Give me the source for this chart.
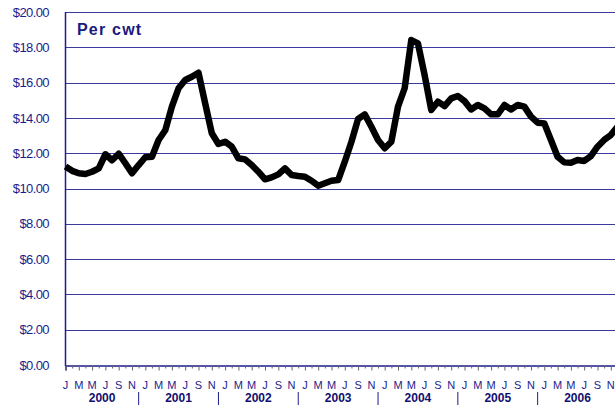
<!DOCTYPE html>
<html>
<head>
<meta charset="utf-8">
<script src="https://cdn.jsdelivr.net/npm/d3@7"></script>
<style>
  body { margin: 0; background: #fff; }
  svg { display: block; font-family: 'Liberation Sans', Arial, sans-serif; }
</style>
</head>
<body>
<div id="chart"></div>
<script>
// Data (monthly price, $ per cwt, Jan 2000 - Dec 2006)
var years = ['2000', '2001', '2002', '2003', '2004', '2005', '2006']
var monthLetters = ['J', 'F', 'M', 'A', 'M', 'J', 'J', 'A', 'S', 'O', 'N', 'D']
var prices = [
  11.24, 11.0, 10.86, 10.82, 10.95, 11.14, 11.94, 11.6, 11.97, 11.43, 10.86, 11.33,
  11.77, 11.8, 12.75, 13.3, 14.64, 15.68, 16.15, 16.33, 16.56, 14.83, 13.13, 12.52,
  12.65, 12.37, 11.71, 11.65, 11.33, 10.95, 10.52, 10.63, 10.8, 11.14, 10.76, 10.71,
  10.67, 10.44, 10.16, 10.3, 10.44, 10.48, 11.52, 12.65, 13.94, 14.2, 13.5, 12.75,
  12.28, 12.65, 14.64, 15.68, 18.41, 18.22, 16.43, 14.45, 14.92, 14.67, 15.11, 15.24,
  14.95, 14.48, 14.73, 14.54, 14.2, 14.2, 14.73, 14.48, 14.73, 14.64, 14.07, 13.73,
  13.69, 12.75, 11.8, 11.48, 11.46, 11.61, 11.56, 11.84, 12.37, 12.75, 13.03, 13.5
]
var yTicks = [0, 2, 4, 6, 8, 10, 12, 14, 16, 18, 20]

// Build the month categories
var months = []
years.forEach(function(y) {
  monthLetters.forEach(function(m, i) {
    months.push({ key: y + '-' + (i + 1), year: y, month: i, letter: m })
  })
})
var datapoints = months.map(function(d, i) {
  return { key: d.key, year: d.year, month: d.month, letter: d.letter, price: prices[i] }
})

var width = 615
var height = 405
var navy = '#1c1c8c'

var svg = d3
  .select('#chart')
  .append('svg')
  .attr('width', width)
  .attr('height', height)

// Scales
var xPositionScale = d3
  .scalePoint()
  .domain(months.map(d => d.key))
  .range([65.5, 65.5 + 6.65 * 83])

var yPositionScale = d3
  .scaleLinear()
  .domain([0, 20])
  .range([365, 12])

// Gridlines
svg
  .selectAll('.grid')
  .data(yTicks.filter(d => d > 0))
  .enter()
  .append('line')
  .attr('class', 'grid')
  .attr('x1', 65)
  .attr('x2', width)
  .attr('y1', d => Math.round(yPositionScale(d)) + 0.5)
  .attr('y2', d => Math.round(yPositionScale(d)) + 0.5)
  .attr('stroke', '#3a3a9e')
  .attr('stroke-width', 1.2)

// Y axis (labels only, line drawn separately)
var yAxis = d3
  .axisLeft(yPositionScale)
  .tickValues(yTicks)
  .tickSize(0)
  .tickPadding(0)
  .tickFormat(d => '$' + d3.format('.2f')(d))

svg
  .append('g')
  .attr('class', 'axis y-axis')
  .attr('transform', 'translate(49,0)')
  .call(yAxis)
  .call(g => g.select('.domain').remove())
  .selectAll('text')
  .attr('fill', navy)
  .attr('font-size', 13)
  .attr('letter-spacing', -0.6)
  .attr('font-family', "'Liberation Sans', Arial, sans-serif")

// Left axis line
svg
  .append('line')
  .attr('x1', 65.5)
  .attr('x2', 65.5)
  .attr('y1', 12)
  .attr('y2', 366)
  .attr('stroke', navy)
  .attr('stroke-width', 1.5)

// X axis with monthly ticks
var xAxis = d3
  .axisBottom(xPositionScale)
  .tickSizeOuter(0)
  .tickSize(5)
  .tickFormat('')

var xAxisG = svg
  .append('g')
  .attr('class', 'axis x-axis')
  .attr('transform', 'translate(0,365.5)')
  .call(xAxis)

xAxisG.select('.domain').attr('stroke', navy).attr('stroke-width', 1.5)
xAxisG
  .selectAll('.tick line')
  .attr('stroke', '#666')
  .attr('y2', function(d, i) {
    return i % 2 === 0 ? 5 : 3
  })

// Month letters every other month
svg
  .selectAll('.month-label')
  .data(datapoints.filter(d => d.month % 2 === 0))
  .enter()
  .append('text')
  .attr('class', 'month-label')
  .attr('x', d => xPositionScale(d.key))
  .attr('y', 389)
  .attr('text-anchor', 'middle')
  .attr('font-size', 11)
  .attr('fill', navy)
  .text(d => d.letter)

// Year separators and year labels
var yearEdges = years.map(function(y, i) {
  var start = i === 0 ? 65.5 : xPositionScale(years[i - 1] + '-12')
  var end = xPositionScale(y + '-12')
  return { year: y, start: start, end: end }
})

svg
  .selectAll('.year-sep')
  .data(yearEdges.slice(0, -1))
  .enter()
  .append('line')
  .attr('class', 'year-sep')
  .attr('x1', d => d.end)
  .attr('x2', d => d.end)
  .attr('y1', 392)
  .attr('y2', 405)
  .attr('stroke', navy)
  .attr('stroke-width', 1)

svg
  .selectAll('.year-label')
  .data(yearEdges)
  .enter()
  .append('text')
  .attr('class', 'year-label')
  .attr('x', d => (d.start + d.end) / 2)
  .attr('y', 402)
  .attr('text-anchor', 'middle')
  .attr('font-size', 12)
  .attr('font-weight', 'bold')
  .attr('fill', '#101070')
  .text(d => d.year)

// The price line
var line = d3
  .line()
  .x(d => xPositionScale(d.key))
  .y(d => yPositionScale(d.price))

svg
  .append('path')
  .datum(datapoints)
  .attr('d', line)
  .attr('fill', 'none')
  .attr('stroke', '#000')
  .attr('stroke-width', 6.5)
  .attr('stroke-linejoin', 'round')
  .attr('stroke-linecap', 'butt')

// Title inside the plot
svg
  .append('text')
  .attr('x', 77)
  .attr('y', 35)
  .attr('font-size', 16)
  .attr('font-weight', 'bold')
  .attr('letter-spacing', 1.2)
  .attr('fill', '#1a1a80')
  .text('Per cwt')
</script>
</body>
</html>
